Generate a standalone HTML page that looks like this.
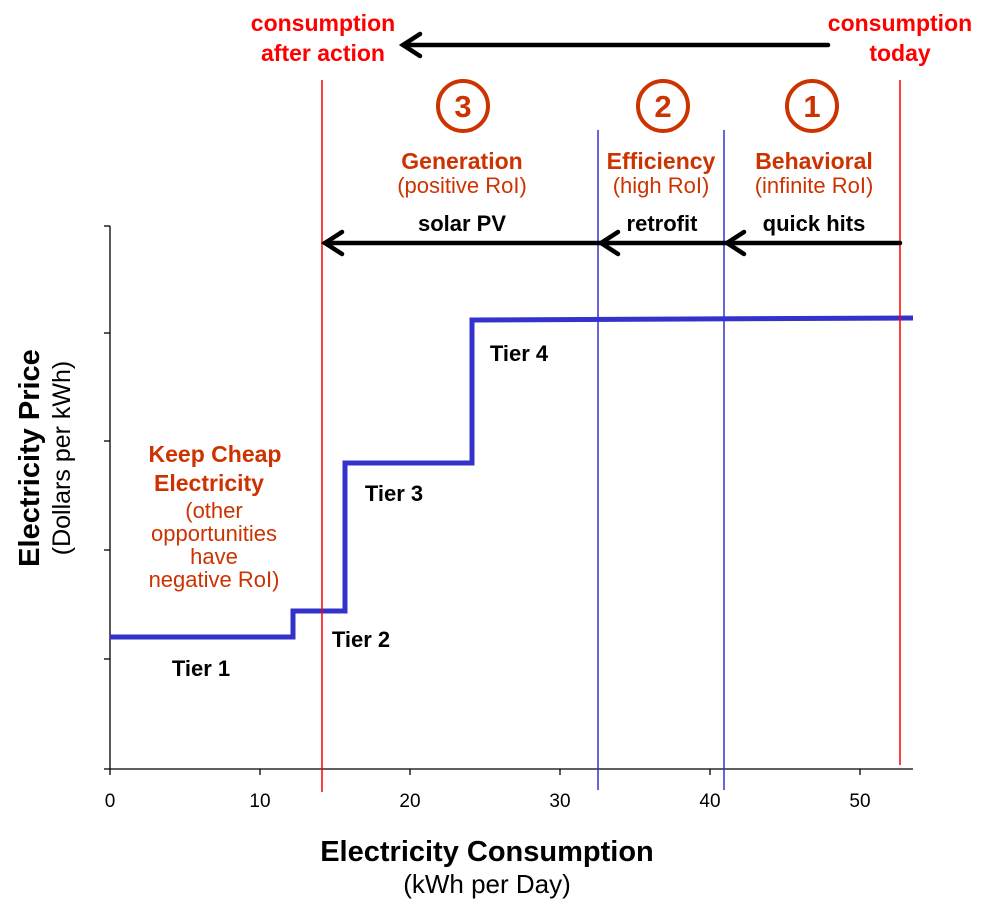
<!DOCTYPE html>
<html><head><style>
body{margin:0;background:#fff;}
svg text{font-family:"Liberation Sans",Arial,sans-serif;}
</style></head><body>
<svg width="993" height="905" viewBox="0 0 993 905" xmlns="http://www.w3.org/2000/svg">
<g stroke="#000" stroke-width="1.3">
<line x1="110" y1="226" x2="110" y2="769"/>
<line x1="110" y1="769" x2="913" y2="769"/>
<line x1="104" y1="226" x2="110" y2="226"/>
<line x1="104" y1="333" x2="110" y2="333"/>
<line x1="104" y1="441" x2="110" y2="441"/>
<line x1="104" y1="550" x2="110" y2="550"/>
<line x1="104" y1="659" x2="110" y2="659"/>
<line x1="104" y1="769" x2="110" y2="769"/>
<line x1="110" y1="769" x2="110" y2="775"/>
<line x1="260" y1="769" x2="260" y2="775"/>
<line x1="410" y1="769" x2="410" y2="775"/>
<line x1="560" y1="769" x2="560" y2="775"/>
<line x1="710" y1="769" x2="710" y2="775"/>
<line x1="860" y1="769" x2="860" y2="775"/>
</g>
<g font-size="19" text-anchor="middle" fill="#000">
<text x="110" y="807">0</text><text x="260" y="807">10</text><text x="410" y="807">20</text>
<text x="560" y="807">30</text><text x="710" y="807">40</text><text x="860" y="807">50</text>
</g>
<polyline points="110,637 293,637 293,611 345,611 345,463 472,463 472,320 913,318" fill="none" stroke="#3333cc" stroke-width="5"/>
<line x1="322" y1="80" x2="322" y2="792" stroke="#ff0000" stroke-width="1.5"/>
<line x1="900" y1="80" x2="900" y2="765" stroke="#ff0000" stroke-width="1.5"/>
<line x1="598" y1="130" x2="598" y2="790" stroke="#3333cc" stroke-width="1.5"/>
<line x1="724" y1="130" x2="724" y2="790" stroke="#3333cc" stroke-width="1.5"/>
<g stroke="#000" stroke-width="4.5" fill="none" stroke-linecap="round">
<line x1="828" y1="45" x2="403" y2="45"/>
<polyline points="420,34 403,45 420,56"/>
<line x1="900" y1="243" x2="325" y2="243"/>
<polyline points="342,232 325,243 342,254"/>
<polyline points="618,232 601,243 618,254"/>
<polyline points="744,232 727,243 744,254"/>
</g>
<g stroke="#cc3300" stroke-width="4" fill="none">
<circle cx="463" cy="106" r="25"/><circle cx="663" cy="106" r="25"/><circle cx="812" cy="106" r="25"/>
</g>
<g fill="#cc3300" font-size="31" font-weight="bold" text-anchor="middle">
<text x="463" y="117">3</text><text x="663" y="117">2</text><text x="812" y="117">1</text>
</g>
<g fill="#cc3300" text-anchor="middle">
<text x="462" y="169" font-size="23" font-weight="bold">Generation</text>
<text x="462" y="193" font-size="22">(positive RoI)</text>
<text x="661" y="169" font-size="23" font-weight="bold">Efficiency</text>
<text x="661" y="193" font-size="22">(high RoI)</text>
<text x="814" y="169" font-size="23" font-weight="bold">Behavioral</text>
<text x="814" y="193" font-size="22">(infinite RoI)</text>
<text x="215" y="462" font-size="23" font-weight="bold">Keep Cheap</text>
<text x="209" y="491" font-size="23" font-weight="bold">Electricity</text>
<text x="214" y="518" font-size="22">(other</text>
<text x="214" y="541" font-size="22">opportunities</text>
<text x="214" y="564" font-size="22">have</text>
<text x="214" y="587" font-size="22">negative RoI)</text>
</g>
<g fill="#ff0000" font-size="23" font-weight="bold" text-anchor="middle">
<text x="323" y="31">consumption</text><text x="323" y="61">after action</text>
<text x="900" y="31">consumption</text><text x="900" y="61">today</text>
</g>
<g fill="#000" font-size="22" font-weight="bold" text-anchor="middle">
<text x="462" y="231">solar PV</text>
<text x="662" y="231">retrofit</text>
<text x="814" y="231">quick hits</text>
<text x="201" y="676">Tier 1</text>
<text x="361" y="647">Tier 2</text>
<text x="394" y="501">Tier 3</text>
<text x="519" y="361">Tier 4</text>
</g>
<text x="487" y="861" font-size="29" font-weight="bold" text-anchor="middle">Electricity Consumption</text>
<text x="487" y="893" font-size="26" text-anchor="middle">(kWh per Day)</text>
<text transform="translate(39,458) rotate(-90)" font-size="29" font-weight="bold" text-anchor="middle">Electricity Price</text>
<text transform="translate(70,458) rotate(-90)" font-size="25" text-anchor="middle">(Dollars per kWh)</text>
</svg>
</body></html>
